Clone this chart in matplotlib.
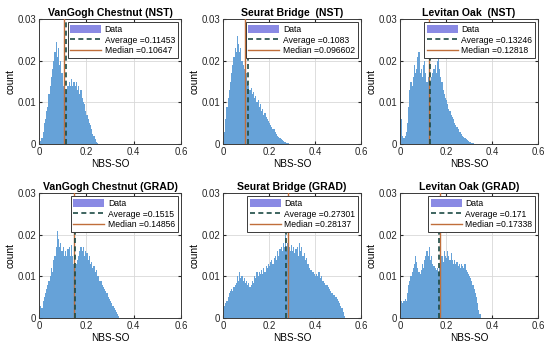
import numpy as np
import matplotlib
matplotlib.use("Agg")
import matplotlib.pyplot as plt
from matplotlib.patches import Patch
from matplotlib.lines import Line2D

plt.rcParams['font.family'] = ['Liberation Sans', 'DejaVu Sans']

# ------------------------------------------
# data: histogram heights (x1e-3), bin width 0.005 starting at 0
# ------------------------------------------
BIN_W = 0.005

titles = [
    "VanGogh Chestnut (NST)", "Seurat Bridge  (NST)", "Levitan Oak  (NST)",
    "VanGogh Chestnut (GRAD)", "Seurat Bridge (GRAD)", "Levitan Oak (GRAD)",
]
averages = ["0.11453", "0.1083", "0.13246", "0.1515", "0.27301", "0.171"]
medians = ["0.10647", "0.096602", "0.12818", "0.14856", "0.28137", "0.17338"]

vangogh_nst = [1.5, 0.8, 1.5, 3, 5, 6, 8, 9, 12, 14, 16, 18, 20, 22, 24.5, 21, 23, 19, 20, 17,
               14, 11, 12, 13, 14, 15, 14, 15.5, 14, 15, 14, 15, 13, 14, 12, 13, 11, 10, 9.5, 8,
               7, 6, 5, 4.5, 3.5, 2.5, 2, 1.2, 0.6, 0.3]
seurat_nst = [0.5, 3, 6, 9, 11, 13, 15, 17, 19, 21, 23, 22, 26, 24, 22, 23, 20, 19, 18, 19,
              17, 15, 14, 13, 13.5, 12, 12.5, 11, 11.5, 10, 10.5, 9, 9.5, 8, 8.5, 7, 7.5, 6.5, 6, 5.5,
              5, 4.5, 4, 3.5, 3.5, 3, 2.5, 2, 1.8, 1.5, 1.2, 1, 0.8, 0.6, 0.5, 0.3, 0.2, 0.1]
levitan_nst = [17, 6, 2, 1.5, 2, 3, 5, 9, 13, 15, 14, 16, 19, 17, 18, 21, 22, 17, 18, 16,
               19, 20, 17, 15, 16, 17, 15, 16, 17, 18, 19, 17, 20, 22, 18, 16, 15, 13, 12, 11,
               10.5, 9.5, 8.5, 8, 7, 6.5, 6, 5, 4.5, 4, 3.5, 3, 2.8, 2.4, 2, 1.7, 1.4, 1.1, 0.9, 0.7,
               0.5, 0.4, 0.3, 0.2]
vangogh_grad = [2, 3, 2.5, 4, 5, 6, 7, 8, 9, 10, 12, 11, 14, 15, 17, 21, 19, 17, 18, 16,
                17, 15, 16, 15, 16.5, 17, 15, 17.5, 15, 13, 12, 13, 14, 15, 16, 17, 16, 17, 15, 16,
                15.5, 14, 15, 13, 13.5, 12, 12.5, 11, 11.5, 10, 10, 9, 9, 8, 7.5, 7, 6.5, 6, 5, 4.5,
                4, 3.5, 3, 2.5, 2, 1.5, 1, 0.5]
seurat_grad = [8, 3, 3.5, 4, 5, 6, 6.5, 7, 6.5, 7.5, 8, 8.5, 10, 9, 11, 9.5, 10, 9, 9.5, 8.5,
               9, 8, 8.5, 7.5, 8, 9, 8.5, 10, 9.5, 11, 10, 11, 10.5, 11.5, 10.5, 12, 11, 12.5, 12, 13,
               12.5, 13.5, 14, 13, 14.5, 15, 14, 16, 15, 16.5, 17, 16, 18, 17, 20, 16, 18, 17, 16, 17.5,
               16, 17, 15.5, 16.5, 17, 15, 18, 16, 17, 15, 15.5, 14, 14.5, 13, 13, 12, 11.5, 11, 11, 10.5,
               10, 10.5, 10, 11, 9.5, 10, 9, 9, 8.5, 8, 8, 7.5, 7, 6.5, 6, 6, 5.5, 5, 5, 4.5,
               4, 3.5, 3, 2.5, 1.5, 0.5]
levitan_grad = [3, 4, 3.5, 4, 4.5, 4, 6, 8, 9, 10, 11, 12, 13, 15, 13.5, 12, 11, 10.5, 11.5, 13,
                12, 14, 15, 16, 15, 17, 14, 15, 13, 12.5, 12, 11.5, 12, 11, 12, 14, 15, 13.5, 16, 15,
                14.5, 16, 15, 14, 15.5, 14, 13, 14, 13, 13.5, 12.5, 13, 12, 13, 12.5, 12, 13, 11.5, 11, 10.5,
                10, 9.5, 9, 8, 7, 6, 5, 3.5, 2, 1]

series = [vangogh_nst, seurat_nst, levitan_nst, vangogh_grad, seurat_grad, levitan_grad]

x_ticks = [0, 0.2, 0.4, 0.6]
y_ticks = [0, 0.01, 0.02, 0.03]

HIST_COLOR = '#66a2d8'
PATCH_COLOR = '#8a8ae4'
AVG_COLOR = '#1c4a44'
MED_COLOR = '#c06e3a'

# ------------------------------------------
# figure
# ------------------------------------------
fig = plt.figure(figsize=(5.5, 3.48), dpi=100)

lefts = [39 / 550, 223 / 550, 400 / 550]
widths = [142 / 550, 138 / 550, 138 / 550]
bottoms = [(348 - 144) / 348, (348 - 318) / 348]
height = 125 / 348

for i, (title, vals) in enumerate(zip(titles, series)):
    r, c = divmod(i, 3)
    ax = fig.add_axes([lefts[c], bottoms[r], widths[c], height])
    heights = np.array(vals) * 1e-3
    edges = np.arange(len(heights)) * BIN_W
    ax.bar(edges, heights, width=BIN_W, align='edge', color=HIST_COLOR,
           edgecolor='none', linewidth=0, zorder=2)
    avg = float(averages[i])
    med = float(medians[i])
    ax.axvline(med, color=MED_COLOR, lw=1.0, zorder=3)
    ax.axvline(avg, color=AVG_COLOR, lw=1.2, ls=(0, (3, 2)), zorder=4)

    ax.set_xlim(0, 0.6)
    ax.set_ylim(0, 0.03)
    ax.set_xticks(x_ticks)
    ax.set_xticklabels(['0', '0.2', '0.4', '0.6'])
    ax.set_yticks(y_ticks)
    ax.set_yticklabels(['0', '0.01', '0.02', '0.03'])
    ax.tick_params(direction='in', length=2.5, labelsize=6.9, colors='#262626',
                   top=True, right=True, pad=2)
    ax.grid(True, color='#d8d8d8', lw=0.6, zorder=0)
    ax.set_axisbelow(True)
    for sp in ax.spines.values():
        sp.set_color('#3a3a3a')
        sp.set_linewidth(0.7)

    ax.set_title(title, fontsize=7.6, fontweight='bold', pad=2.5)
    ax.set_xlabel('NBS-SO', fontsize=7.2, labelpad=1.5)
    ax.set_ylabel('count', fontsize=7.4, labelpad=1)

    handles = [
        Patch(facecolor=PATCH_COLOR, edgecolor='none'),
        Line2D([], [], color=AVG_COLOR, ls=(0, (3, 2)), lw=1.2),
        Line2D([], [], color=MED_COLOR, lw=1.0),
    ]
    labels = ['Data', 'Average =' + averages[i], 'Median =' + medians[i]]
    leg = ax.legend(handles, labels, loc='upper right', fontsize=6.2,
                    frameon=True, fancybox=False, framealpha=1,
                    edgecolor='#3a3a3a', handlelength=3.6, handleheight=1.0,
                    handletextpad=0.4, labelspacing=0.2, borderpad=0.3,
                    borderaxespad=0.4)
    leg.get_frame().set_linewidth(0.7)
    leg.set_zorder(5)

fig.savefig('out.png', dpi=100)
